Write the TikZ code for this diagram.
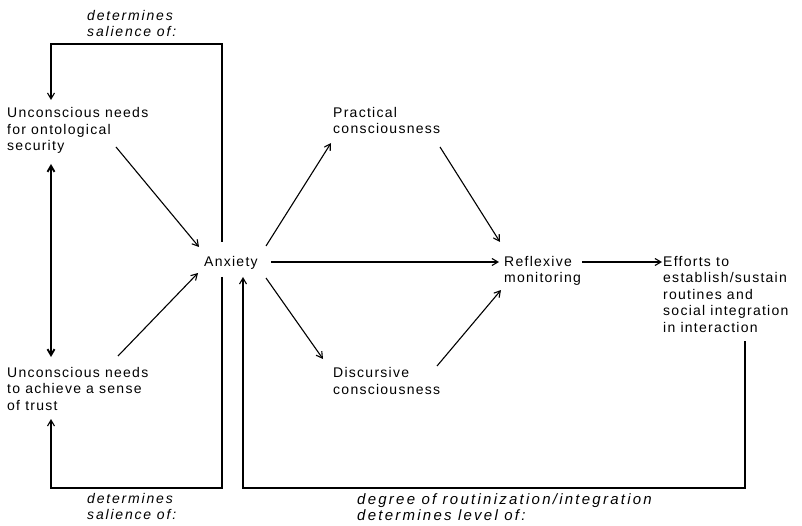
\documentclass[tikz,border=0pt]{standalone}
\usepackage{fontspec}
\setmainfont{Liberation Sans}[LetterSpace=9]
\usetikzlibrary{arrows.meta}
\begin{document}
\begin{tikzpicture}[x=1pt,y=-1pt,
  % multi-line nodes are placed by the baseline of their last line
  txt/.style={inner sep=0pt, align=left, anchor=base west,
    font=\fontsize{14}{16.5}\selectfont},
  lbl/.style={txt, font=\fontsize{14}{16}\selectfont\itshape\addfontfeature{LetterSpace=13}},
  widelbl/.style={txt, font=\fontsize{15}{16}\selectfont\itshape\addfontfeature{LetterSpace=15}},
  tip/.style={-{Straight Barb[length=6pt,width=7pt]}},
  conn/.style={line width=1.1pt, tip},
  loopline/.style={line width=1.1pt, tip},
  twoway/.style={line width=1.9pt, {Straight Barb[length=6pt,width=7pt]}-{Straight Barb[length=6pt,width=7pt]}}]
\useasboundingbox (0,0) rectangle (802,526);

% concepts
\node[txt] (u1) at (7,151) {Unconscious needs\\for ontological\\security};
\node[txt] (u2) at (7,410) {Unconscious needs\\to achieve a sense\\of trust};
\node[txt] (anx) at (204,266) {Anxiety};
\node[txt] (prac) at (333,134) {Practical\\consciousness};
\node[txt] (disc) at (333,394) {Discursive\\consciousness};
\node[txt] (refl) at (504,283) {Reflexive\\monitoring};
\node[txt] (eff) at (663,332) {Efforts to\\establish/sustain\\routines and\\social integration\\in interaction};

% feedback labels
\node[lbl] (ltop) at (87,37) {determines\\salience of:};
\node[lbl] (lbot) at (87,519) {determines\\salience of:};
\node[widelbl] (lright) at (357,520) {degree of routinization/integration\\determines level of:};

% two needs linked to each other
\draw[twoway] ([shift={(44,13)}]u1.base west) -- ([shift={(44,-53)}]u2.base west);

% needs feed anxiety
\draw[conn] ([shift={(109,-4)}]u1.base west) -- ([shift={(-5,-19)}]anx.base west);
\draw[conn] ([shift={(111,-54)}]u2.base west) -- ([shift={(-6,7)}]anx.base west);

% anxiety to the forms of consciousness
\draw[conn] ([shift={(62,-20)}]anx.base west) -- ([shift={(-2,9)}]prac.base west);
\draw[conn] ([shift={(62,12)}]anx.base west) -- ([shift={(-10,-35)}]disc.base west);
\draw[conn] ([shift={(67,-4)}]anx.base west) -- ([shift={(-5,-21)}]refl.base west);

% consciousness to reflexive monitoring
\draw[conn] ([shift={(107,13)}]prac.base west) -- ([shift={(-4,-41)}]refl.base west);
\draw[conn] ([shift={(104,-28)}]disc.base west) -- ([shift={(-3,7)}]refl.base west);
\draw[conn] ([shift={(78,-21)}]refl.base west) -- ([shift={(-1,-70)}]eff.base west);

% feedback loops
\draw[loopline] ([shift={(18,-24)}]anx.base west) -- ++(0,-198) -| ([shift={(44,-51)}]u1.base west);
\draw[loopline] ([shift={(18,11)}]anx.base west) -- ++(0,211) -| ([shift={(44,9)}]u2.base west);
\draw[loopline] ([shift={(82,9)}]eff.base west) -- ++(0,147) -| ([shift={(39,11)}]anx.base west);
\end{tikzpicture}
\end{document}
